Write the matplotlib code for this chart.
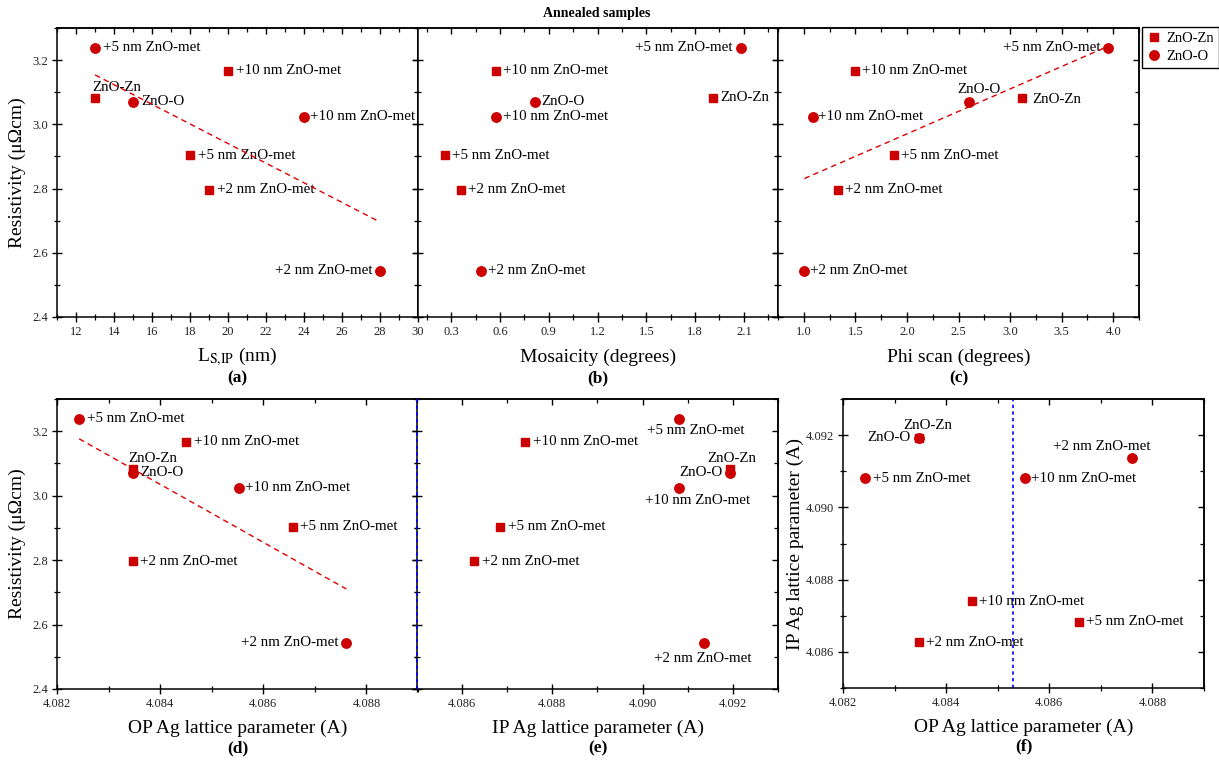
import numpy as np
import matplotlib
matplotlib.use("Agg")
import matplotlib.pyplot as plt
from matplotlib.ticker import MultipleLocator, FormatStrFormatter

plt.rcParams['font.family'] = ['Liberation Serif', 'DejaVu Serif']
plt.rcParams['mathtext.fontset'] = 'stix'

# ---------------- data ----------------
# sample order in each series: base, +2 nm, +5 nm, +10 nm
zn_names = ["ZnO-Zn", "+2 nm ZnO-met", "+5 nm ZnO-met", "+10 nm ZnO-met"]
o_names = ["ZnO-O", "+2 nm ZnO-met", "+5 nm ZnO-met", "+10 nm ZnO-met"]

zn_rho = [3.083, 2.796, 2.904, 3.167]
o_rho = [3.071, 2.544, 3.238, 3.024]

zn_ls = [13, 19, 18, 20]
o_ls = [15, 28, 13, 24]

zn_mos = [1.91, 0.357, 0.259, 0.573]
o_mos = [0.813, 0.48, 2.082, 0.573]

zn_phi = [3.115, 1.328, 1.879, 1.500]
o_phi = [2.602, 1.006, 3.945, 1.088]

zn_op = [4.08347, 4.08347, 4.08657, 4.08450]
o_op = [4.08347, 4.08761, 4.08243, 4.08553]

zn_ip = [4.09193, 4.08627, 4.08684, 4.08740]
o_ip = [4.09193, 4.09136, 4.09080, 4.09080]

ag_bulk = 4.0853          # reference line in (f)
e_marker_line = 4.085     # dotted line on left edge of (e)

# ---------------- style ----------------
RED = '#cc0000'
W, H = 1219, 762
fig = plt.figure(figsize=(W / 100, H / 100), dpi=100)


def rect(x0, x1, y0, y1):
    return [x0 / W, 1 - y1 / H, (x1 - x0) / W, (y1 - y0) / H]


axa = fig.add_axes(rect(57, 418, 28, 317))
axb = fig.add_axes(rect(418, 778, 28, 317))
axc = fig.add_axes(rect(778, 1139, 28, 317))
axd = fig.add_axes(rect(57, 418, 399, 689))
axe = fig.add_axes(rect(417, 778, 399, 689))
axf = fig.add_axes(rect(843, 1204, 399, 688))


def style(ax, xlim, ylim, xmaj, xmin, ymaj, ymin, xfmt, yfmt, ylabels=True):
    ax.set_xlim(*xlim)
    ax.set_ylim(*ylim)
    ax.xaxis.set_major_locator(MultipleLocator(xmaj))
    ax.xaxis.set_minor_locator(MultipleLocator(xmin))
    ax.yaxis.set_major_locator(MultipleLocator(ymaj))
    ax.yaxis.set_minor_locator(MultipleLocator(ymin))
    ax.xaxis.set_major_formatter(FormatStrFormatter(xfmt))
    ax.yaxis.set_major_formatter(FormatStrFormatter(yfmt))
    ax.tick_params(which='major', direction='inout', length=7, width=1.0,
                   labelsize=9, labelcolor='#222222', pad=3)
    ax.tick_params(which='minor', direction='inout', length=4.5, width=0.9)
    if not ylabels:
        ax.tick_params(axis='y', labelleft=False)
    for s in ax.spines.values():
        s.set_linewidth(1.1)
    # inward ticks on top and right
    top = ax.secondary_xaxis('top')
    top.xaxis.set_major_locator(MultipleLocator(xmaj))
    top.xaxis.set_minor_locator(MultipleLocator(xmin))
    top.tick_params(which='major', direction='in', length=4.5, width=1.0, labeltop=False)
    top.tick_params(which='minor', direction='in', length=3, width=0.9)
    top.spines['top'].set_linewidth(1.1)
    right = ax.secondary_yaxis('right')
    right.yaxis.set_major_locator(MultipleLocator(ymaj))
    right.yaxis.set_minor_locator(MultipleLocator(ymin))
    right.tick_params(which='major', direction='in', length=4.5, width=1.0, labelright=False)
    right.tick_params(which='minor', direction='in', length=3, width=0.9)
    right.spines['right'].set_linewidth(1.1)


def points(ax, zx, zy, ox, oy, zoff, ooff, fit=False):
    ax.plot(zx, zy, 's', color=RED, ms=6, mec=RED, ls='none', zorder=3, label='ZnO-Zn')
    ax.plot(ox, oy, 'o', color=RED, ms=6.8, mec=RED, ls='none', zorder=3, label='ZnO-O')
    for xs, ys, names, offs in ((zx, zy, zn_names, zoff), (ox, oy, o_names, ooff)):
        for x, y, n, (dx, dy, ha) in zip(xs, ys, names, offs):
            ax.annotate(n, (x, y), xytext=(dx, dy), textcoords='offset pixels',
                        ha=ha, va='center', fontsize=10.8, zorder=4)
    if fit:
        xa = np.array(list(zx) + list(ox), dtype=float)
        ya = np.array(list(zy) + list(oy), dtype=float)
        k, b = np.polyfit(xa, ya, 1)
        xx = np.array([xa.min(), xa.max()])
        ax.plot(xx, k * xx + b, color='#e00000', lw=1.0, ls=(0, (4, 3)), zorder=5)


L, R, C = 'left', 'right', 'center'

# (a)
style(axa, (11, 30), (2.4, 3.3), 2, 1, 0.2, 0.1, '%d', '%.1f')
points(axa, zn_ls, zn_rho, o_ls, o_rho,
       [(-3, 10, L), (8, 0, L), (8, 0, L), (8, 0, L)],
       [(8, 0, L), (-8, 0, R), (8, 0, L), (6, 0, L)], fit=True)
# (b)
style(axb, (0.095, 2.31), (2.4, 3.3), 0.3, 0.15, 0.2, 0.1, '%.1f', '%.1f', ylabels=False)
points(axb, zn_mos, zn_rho, o_mos, o_rho,
       [(7, 0, L), (7, 0, L), (7, 0, L), (7, 0, L)],
       [(7, 0, L), (7, 0, L), (-8, 0, R), (7, 0, L)])
# (c)
style(axc, (0.75, 4.25), (2.4, 3.3), 0.5, 0.25, 0.2, 0.1, '%.1f', '%.1f', ylabels=False)
points(axc, zn_phi, zn_rho, o_phi, o_rho,
       [(10, -2, L), (7, 0, L), (7, 0, L), (7, 0, L)],
       [(-12, 12, L), (6, 0, L), (-7, 0, R), (5, 0, L)], fit=True)
# (d)
style(axd, (4.082, 4.089), (2.4, 3.3), 0.002, 0.001, 0.2, 0.1, '%.3f', '%.1f')
points(axd, zn_op, zn_rho, o_op, o_rho,
       [(-4, 10, L), (7, 0, L), (7, 0, L), (8, 0, L)],
       [(8, 0, L), (-8, 0, R), (8, 0, L), (6, 0, L)], fit=True)
# (e)
style(axe, (4.085, 4.093), (2.4, 3.3), 0.002, 0.001, 0.2, 0.1, '%.3f', '%.1f', ylabels=False)
points(axe, zn_ip, zn_rho, o_ip, o_rho,
       [(-22, 10, L), (8, 0, L), (8, 0, L), (8, 0, L)],
       [(-7, 0, R), (-1, -16, C), (17, -12, C), (19, -13, C)])
axe.axvline(e_marker_line, color='#0000ff', lw=1.2, ls=(0, (2, 2)), zorder=6, clip_on=False)
# (f)
style(axf, (4.082, 4.089), (4.085, 4.093), 0.002, 0.001, 0.002, 0.001, '%.3f', '%.3f')
points(axf, zn_op, zn_ip, o_op, o_ip,
       [(9, 12, C), (7, 0, L), (7, 0, L), (7, 0, L)],
       [(-8, 0, R), (-31, 12, C), (8, 0, L), (6, 0, L)])
axf.axvline(ag_bulk, color='#0000ff', lw=1.2, ls=(0, (2, 2)), zorder=2)

# labels
top_axes = [(axa, r'L$_{\mathrm{S{,}IP}}$ (nm)', '(a)'),
            (axb, 'Mosaicity (degrees)', '(b)'),
            (axc, 'Phi scan (degrees)', '(c)')]
for ax, xl, pl in top_axes:
    ax.text(0.5, -0.138, xl, transform=ax.transAxes, ha='center', va='center', fontsize=14)
    ax.text(0.5, -0.211, pl, transform=ax.transAxes, ha='center', va='center',
            fontsize=12.5, fontweight='bold')
bot_axes = [(axd, 'OP Ag lattice parameter (A)', '(d)'),
            (axe, 'IP Ag lattice parameter (A)', '(e)'),
            (axf, 'OP Ag lattice parameter (A)', '(f)')]
for ax, xl, pl in bot_axes:
    ax.text(0.5, -0.1345, xl, transform=ax.transAxes, ha='center', va='center', fontsize=14)
    ax.text(0.5, -0.2034, pl, transform=ax.transAxes, ha='center', va='center',
            fontsize=12.5, fontweight='bold')

for ax in (axa, axd):
    ax.text(-0.111, 0.5, 'Resistivity (\u03bc\u03a9cm)', transform=ax.transAxes,
            rotation=90, ha='center', va='center', fontsize=14)
axf.text(-0.133, 0.5, 'IP Ag lattice parameter (A)', transform=axf.transAxes,
         rotation=90, ha='center', va='center', fontsize=14)

fig.text(597 / W, 1 - 14 / H, 'Annealed samples', ha='center', va='center',
         fontsize=10, fontweight='bold')

h, lab = axc.get_legend_handles_labels()
leg = fig.legend(h, lab, loc='upper left', bbox_to_anchor=(1142 / W, 1 - 27 / H),
                 borderaxespad=0, fancybox=False, edgecolor='black', fontsize=10.5,
                 handletextpad=0.3, handlelength=1.0, borderpad=0.35, labelspacing=0.3,
                 framealpha=1)
leg.get_frame().set_linewidth(1.0)

fig.savefig('out.png', dpi=100)
